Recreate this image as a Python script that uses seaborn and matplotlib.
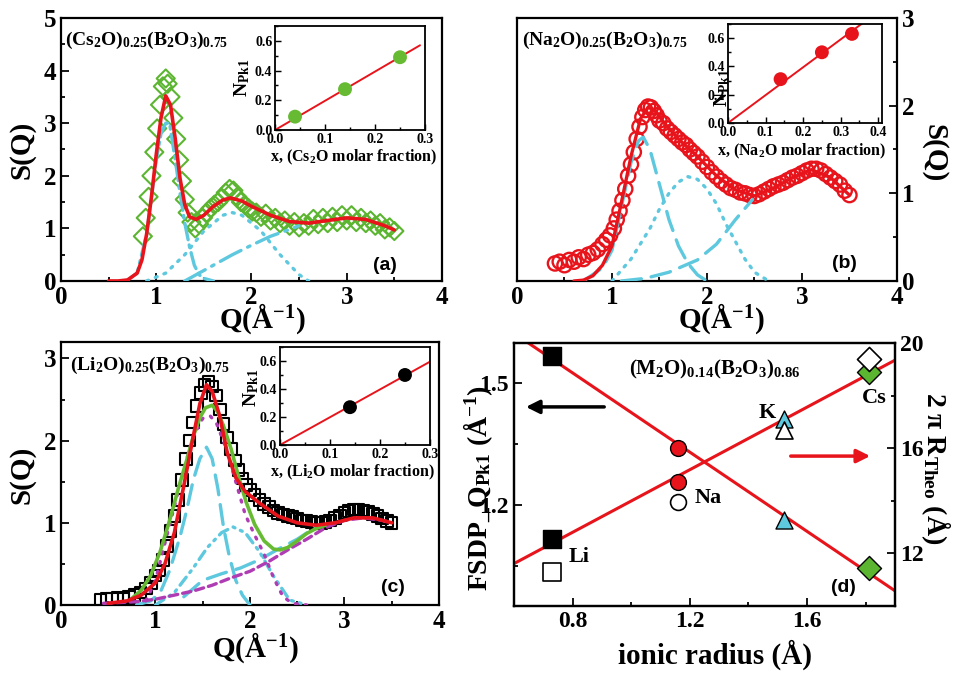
import numpy as np
import matplotlib
matplotlib.use("Agg")
import matplotlib.pyplot as plt
from matplotlib.ticker import MultipleLocator, FixedLocator
import seaborn as sns

# ---------------- values ----------------
# (a) (Cs2O)0.25(B2O3)0.75
cs_q = [0.86, 0.89, 0.92, 0.95, 0.98, 1.01, 1.04, 1.07, 1.10, 1.12, 1.15, 1.18, 1.21, 1.24, 1.27, 1.30,
        1.33, 1.37, 1.41, 1.45, 1.49, 1.53, 1.57, 1.61, 1.65, 1.69, 1.73, 1.77, 1.81, 1.85, 1.89, 1.93,
        1.97, 2.01, 2.05, 2.10, 2.15, 2.20, 2.25, 2.30, 2.35, 2.40, 2.45, 2.50, 2.55, 2.60, 2.65, 2.70,
        2.75, 2.80, 2.85, 2.90, 2.95, 3.00, 3.05, 3.10, 3.15, 3.20, 3.25, 3.30, 3.35, 3.40, 3.45, 3.50]
cs_s = [0.85, 1.20, 1.60, 2.00, 2.45, 2.90, 3.35, 3.70, 3.85, 3.75, 3.50, 3.10, 2.70, 2.30, 1.90, 1.55,
        1.30, 1.12, 1.00, 1.08, 1.20, 1.30, 1.38, 1.45, 1.50, 1.58, 1.68, 1.75, 1.72, 1.60, 1.50, 1.45,
        1.38, 1.32, 1.30, 1.22, 1.28, 1.15, 1.20, 1.10, 1.15, 1.05, 1.12, 1.02, 1.10, 1.05, 1.18, 1.08,
        1.20, 1.10, 1.22, 1.12, 1.25, 1.15, 1.25, 1.12, 1.20, 1.10, 1.15, 1.05, 1.10, 0.98, 1.02, 0.95]
cs_fit_q = [0.50, 0.60, 0.70, 0.80, 0.85, 0.90, 0.95, 1.00, 1.05, 1.10, 1.15, 1.20, 1.25, 1.30, 1.35,
            1.42, 1.50, 1.60, 1.70, 1.78, 1.90, 2.00, 2.20, 2.40, 2.60, 2.80, 3.00, 3.20, 3.40, 3.50]
cs_fit_s = [0.00, 0.00, 0.02, 0.15, 0.40, 0.90, 1.60, 2.40, 3.10, 3.52, 3.35, 2.70, 1.95, 1.45, 1.22,
            1.17, 1.25, 1.42, 1.54, 1.58, 1.52, 1.42, 1.25, 1.13, 1.10, 1.15, 1.20, 1.17, 1.05, 0.97]
cs_p1_q = [0.70, 0.80, 0.90, 1.00, 1.05, 1.10, 1.14, 1.20, 1.25, 1.30, 1.35, 1.40, 1.45, 1.50, 1.60]
cs_p1_s = [0.02, 0.15, 0.90, 2.30, 2.80, 3.00, 3.00, 2.30, 1.67, 1.10, 0.65, 0.30, 0.12, 0.05, 0.00]
cs_p2_q = [0.90, 1.10, 1.30, 1.50, 1.70, 1.80, 1.90, 2.10, 2.30, 2.50, 2.60]
cs_p2_s = [0.00, 0.15, 0.50, 0.95, 1.25, 1.30, 1.25, 0.95, 0.50, 0.12, 0.00]
cs_p3_q = [1.30, 1.40, 1.60, 1.80, 2.00, 2.20, 2.40, 2.50]
cs_p3_s = [0.00, 0.10, 0.30, 0.50, 0.68, 0.85, 0.98, 1.05]
cs_frac = [0.04, 0.14, 0.25]
cs_npk = [0.09, 0.275, 0.49]

# (b) (Na2O)0.25(B2O3)0.75
na_q = [0.40, 0.45, 0.50, 0.55, 0.60, 0.65, 0.70, 0.75, 0.80, 0.85, 0.90, 0.94, 0.98, 1.02, 1.05, 1.08,
        1.11, 1.14, 1.17, 1.20, 1.23, 1.26, 1.29, 1.32, 1.35, 1.38, 1.41, 1.44, 1.47, 1.50, 1.54, 1.58,
        1.62, 1.66, 1.70, 1.74, 1.78, 1.82, 1.86, 1.90, 1.95, 2.00, 2.05, 2.10, 2.15, 2.20, 2.25, 2.30,
        2.35, 2.40, 2.45, 2.50, 2.55, 2.60, 2.65, 2.70, 2.75, 2.80, 2.85, 2.90, 2.95, 3.00, 3.05, 3.10,
        3.15, 3.20, 3.25, 3.30, 3.35, 3.40, 3.45, 3.50]
na_s = [0.20, 0.22, 0.18, 0.24, 0.22, 0.27, 0.25, 0.30, 0.32, 0.36, 0.42, 0.47, 0.52, 0.60, 0.70, 0.80,
        0.92, 1.05, 1.20, 1.33, 1.47, 1.62, 1.76, 1.87, 1.95, 1.99, 1.98, 1.94, 1.89, 1.83, 1.80, 1.74,
        1.70, 1.66, 1.62, 1.58, 1.55, 1.50, 1.46, 1.42, 1.36, 1.30, 1.24, 1.19, 1.14, 1.10, 1.06, 1.04,
        1.01, 1.00, 0.98, 0.97, 0.99, 1.02, 1.05, 1.08, 1.10, 1.12, 1.15, 1.18, 1.20, 1.23, 1.26, 1.28,
        1.28, 1.26, 1.22, 1.18, 1.14, 1.10, 1.03, 0.98]
na_fit_q = [0.60, 0.70, 0.80, 0.90, 1.00, 1.10, 1.20, 1.30, 1.38, 1.45, 1.55, 1.70, 1.90, 2.10, 2.30,
            2.50, 2.70, 2.90, 3.10, 3.30, 3.50]
na_fit_s = [0.00, 0.01, 0.06, 0.18, 0.40, 0.90, 1.42, 1.85, 1.98, 1.95, 1.80, 1.62, 1.42, 1.20, 1.04,
            0.97, 1.06, 1.18, 1.27, 1.18, 0.98]
na_p1_q = [0.70, 0.90, 1.00, 1.10, 1.20, 1.28, 1.33, 1.40, 1.50, 1.60, 1.70, 1.80, 1.90, 2.00]
na_p1_s = [0.00, 0.15, 0.35, 0.85, 1.35, 1.60, 1.64, 1.50, 1.10, 0.70, 0.40, 0.20, 0.07, 0.00]
na_p2_q = [1.00, 1.20, 1.40, 1.50, 1.60, 1.70, 1.80, 1.90, 2.00, 2.10, 2.20, 2.30, 2.40, 2.50, 2.65]
na_p2_s = [0.00, 0.25, 0.60, 0.82, 1.00, 1.13, 1.19, 1.16, 1.05, 0.88, 0.65, 0.45, 0.25, 0.10, 0.00]
na_p3_q = [1.10, 1.35, 1.60, 1.90, 2.10, 2.30, 2.48]
na_p3_s = [0.00, 0.03, 0.10, 0.24, 0.42, 0.70, 0.93]
na_frac = [0.14, 0.25, 0.33]
na_npk = [0.31, 0.50, 0.63]

# (c) (Li2O)0.25(B2O3)0.75
li_q = [0.42, 0.48, 0.54, 0.60, 0.66, 0.72, 0.78, 0.84, 0.90, 0.95, 1.00, 1.04, 1.08, 1.12, 1.16, 1.20,
        1.24, 1.28, 1.32, 1.36, 1.40, 1.44, 1.48, 1.52, 1.56, 1.60, 1.64, 1.68, 1.72, 1.76, 1.80, 1.84,
        1.88, 1.92, 1.96, 2.00, 2.05, 2.10, 2.15, 2.20, 2.25, 2.30, 2.35, 2.40, 2.45, 2.50, 2.55, 2.60,
        2.65, 2.70, 2.75, 2.80, 2.85, 2.90, 2.95, 3.00, 3.05, 3.10, 3.15, 3.20, 3.25, 3.30, 3.35, 3.40,
        3.45, 3.50]
li_s = [0.06, 0.08, 0.07, 0.09, 0.08, 0.10, 0.12, 0.15, 0.20, 0.27, 0.36, 0.42, 0.55, 0.72, 0.90, 1.08,
        1.28, 1.52, 1.78, 2.00, 2.22, 2.42, 2.58, 2.68, 2.72, 2.66, 2.55, 2.38, 2.20, 2.04, 1.90, 1.76,
        1.64, 1.54, 1.46, 1.40, 1.34, 1.28, 1.23, 1.19, 1.15, 1.12, 1.10, 1.08, 1.07, 1.05, 1.03, 1.02,
        1.01, 1.00, 1.00, 1.01, 1.03, 1.06, 1.09, 1.12, 1.14, 1.16, 1.16, 1.15, 1.13, 1.11, 1.08, 1.05,
        1.02, 1.00]
li_fit_q = [0.50, 0.70, 0.85, 1.00, 1.10, 1.20, 1.30, 1.40, 1.47, 1.54, 1.60, 1.68, 1.76, 1.85, 1.95,
            2.10, 2.30, 2.50, 2.70, 2.90, 3.10, 3.30, 3.50]
li_fit_s = [0.02, 0.05, 0.12, 0.27, 0.50, 0.88, 1.45, 2.05, 2.45, 2.68, 2.60, 2.30, 1.85, 1.55, 1.38,
            1.24, 1.08, 1.00, 0.97, 1.00, 1.06, 1.06, 1.00]
li_g_q = [0.75, 0.85, 0.95, 1.05, 1.15, 1.25, 1.33, 1.40, 1.47, 1.53, 1.60, 1.66, 1.72, 1.80, 1.88,
          1.96, 2.05, 2.15, 2.25, 2.32, 2.40, 2.50, 2.60, 2.70, 2.80]
li_g_s = [0.08, 0.18, 0.36, 0.65, 1.03, 1.45, 1.76, 2.05, 2.28, 2.40, 2.43, 2.35, 2.18, 1.90, 1.56,
          1.25, 0.98, 0.78, 0.68, 0.67, 0.70, 0.78, 0.87, 0.93, 0.97]
li_m1_q = [0.90, 1.00, 1.10, 1.20, 1.30, 1.40, 1.50, 1.58, 1.65, 1.75, 1.85, 1.95, 2.05, 2.15, 2.25,
           2.35, 2.45, 2.60]
li_m1_s = [0.05, 0.30, 0.75, 1.20, 1.65, 2.05, 2.27, 2.30, 2.20, 1.90, 1.50, 1.10, 0.85, 0.62, 0.33,
           0.10, 0.02, 0.00]
li_m2_q = [0.45, 0.80, 1.00, 1.20, 1.40, 1.60, 1.80, 2.00, 2.20, 2.40, 2.60, 2.80, 3.00, 3.20, 3.40, 3.50]
li_m2_s = [0.02, 0.04, 0.07, 0.12, 0.17, 0.24, 0.33, 0.41, 0.53, 0.67, 0.80, 0.94, 1.03, 1.06, 1.03, 1.00]
li_p1_q = [0.80, 0.95, 1.05, 1.15, 1.26, 1.33, 1.40, 1.47, 1.54, 1.60, 1.66, 1.72, 1.78, 1.85, 1.92, 2.00]
li_p1_s = [0.00, 0.05, 0.15, 0.42, 0.83, 1.15, 1.52, 1.78, 1.92, 1.78, 1.42, 0.95, 0.60, 0.30, 0.12, 0.00]
li_p2_q = [1.00, 1.20, 1.40, 1.55, 1.70, 1.82, 1.95, 2.10, 2.25, 2.42, 2.60]
li_p2_s = [0.00, 0.15, 0.45, 0.70, 0.88, 0.95, 0.88, 0.65, 0.35, 0.06, 0.00]
li_p3_q = [1.30, 1.50, 1.70, 1.90, 2.10, 2.30, 2.50, 2.70]
li_p3_s = [0.10, 0.30, 0.38, 0.45, 0.55, 0.68, 0.80, 0.95]
li_frac = [0.14, 0.25]
li_npk = [0.27, 0.50]

# (d) (M2O)0.14(B2O3)0.86
ions = ["Li", "Na", "K", "Cs"]
ion_radius = [0.73, 1.16, 1.52, 1.81]
fsdp_q = [1.569, 1.340, 1.163, 1.043]
r_theo = [12.53, 14.70, 17.10, 18.90]
r_theo_open = [11.28, 13.94, 16.69, 19.40]

GREEN = "#5cb531"
RED = "#e8141c"
CYAN = "#5ec8de"
MAGENTA = "#b03cb4"
ion_colors = ["black", RED, CYAN, GREEN]
ion_markers = ["s", "o", "^", "D"]

# ---------------- style ----------------
sns.set_style("ticks")
plt.rcParams["font.family"] = ["Liberation Serif", "DejaVu Serif"]
plt.rcParams["font.weight"] = "bold"
plt.rcParams["axes.labelweight"] = "bold"
plt.rcParams["mathtext.fontset"] = "custom"
plt.rcParams["mathtext.rm"] = "Liberation Serif:bold"
plt.rcParams["mathtext.it"] = "Liberation Serif:bold:italic"
plt.rcParams["mathtext.bf"] = "Liberation Serif:bold"
plt.rcParams["mathtext.default"] = "regular"
plt.rcParams["text.color"] = "black"
plt.rcParams["axes.labelcolor"] = "black"

fig = plt.figure(figsize=(9.54, 6.74), dpi=100)


def frame(ax, size, lw=1.6, major=6, minor=3):
    for sp in ax.spines.values():
        sp.set_linewidth(lw)
        sp.set_color("black")
    ax.tick_params(which="both", direction="in", width=lw * 0.8, colors="black",
                   labelsize=size, top=False, right=False)
    ax.tick_params(which="major", length=major)
    ax.tick_params(which="minor", length=minor)


def line(ax, q, s, color, lw, ls="-", z=3):
    sns.lineplot(x=q, y=s, ax=ax, color=color, lw=lw, ls=ls, estimator=None,
                 dash_capstyle="round", zorder=z)


def sq_axes(ax, ymax):
    ax.set_xlim(0, 4)
    ax.set_ylim(0, ymax)
    ax.xaxis.set_major_locator(MultipleLocator(1))
    ax.xaxis.set_minor_locator(MultipleLocator(0.5))
    ax.yaxis.set_major_locator(MultipleLocator(1))
    ax.yaxis.set_minor_locator(MultipleLocator(0.5))
    ax.set_xlabel("Q(Å$^{-1}$)", fontsize=21, ha="center", va="center")


def inset(rect, xs, ns, xend, xmax, color, xlabel, xlab_pos, ylab_pos):
    ax = fig.add_axes(rect)
    slope = np.dot(xs, ns) / np.dot(xs, xs)
    xx = np.array([0.0, xend])
    sns.lineplot(x=xx, y=slope * xx, ax=ax, color=RED, lw=1.4, zorder=2)
    sns.scatterplot(x=xs, y=ns, ax=ax, color=color, s=100, edgecolor="none", zorder=3)
    ax.set_xlim(0, xmax)
    ax.set_ylim(0, 0.7)
    ax.xaxis.set_major_locator(MultipleLocator(0.1))
    ax.xaxis.set_minor_locator(MultipleLocator(0.05))
    ax.yaxis.set_major_locator(MultipleLocator(0.2))
    ax.yaxis.set_minor_locator(MultipleLocator(0.1))
    frame(ax, 10, lw=1.3, major=4, minor=2)
    ax.tick_params(pad=2)
    ax.set_xlabel(xlabel, fontsize=11.5, ha="center", va="center")
    ax.xaxis.set_label_coords(*xlab_pos)
    ax.set_ylabel("N$_{Pk1}$", fontsize=14, rotation=90, rotation_mode="default",
                  ha="center", va="center")
    ax.yaxis.set_label_coords(*ylab_pos)
    return ax


ttl_kw = dict(fontsize=14, va="top", ha="left")
tag_kw = dict(fontsize=14, fontweight="bold", ha="center", va="center",
              family=["Liberation Sans", "DejaVu Sans"])

# ---------------- (a) ----------------
ax_a = fig.add_axes([0.0639, 0.5831, 0.3994, 0.3902])
sns.scatterplot(x=cs_q, y=cs_s, ax=ax_a, marker="D", s=85, facecolor="none",
                edgecolor=GREEN, linewidth=1.5, zorder=2)
line(ax_a, cs_p1_q, cs_p1_s, CYAN, 2.4, (0, (5, 1.6, 0.8, 1.6)))
line(ax_a, cs_p2_q, cs_p2_s, CYAN, 2.4, (0, (0.6, 2.2)))
line(ax_a, cs_p3_q, cs_p3_s, CYAN, 2.4, (0, (7, 2.2, 0.8, 2.2)))
line(ax_a, cs_fit_q, cs_fit_s, RED, 2.6, "-", z=4)
sq_axes(ax_a, 5)
frame(ax_a, 18)
ax_a.xaxis.set_label_coords(0.528, -0.145)
ax_a.set_ylabel("S(Q)", fontsize=21, rotation=90, rotation_mode="default", ha="center", va="center")
ax_a.yaxis.set_label_coords(-0.102, 0.498)
ax_a.text(0.01, 0.954, "(Cs$_2$O)$_{0.25}$(B$_2$O$_3$)$_{0.75}$", transform=ax_a.transAxes, **ttl_kw)
ax_a.text(0.850, 0.057, "(a)", transform=ax_a.transAxes, **tag_kw)
inset([0.2883, 0.8071, 0.1572, 0.1543], cs_frac, cs_npk, 0.29, 0.3, "#66bb33",
      "x, (Cs$_2$O molar fraction)", (0.527, -0.26), (-0.22, 0.5))

# ---------------- (b) ----------------
ax_b = fig.add_axes([0.5419, 0.5831, 0.3983, 0.3902])
sns.scatterplot(x=na_q, y=na_s, ax=ax_b, marker="o", s=105, facecolor="none",
                edgecolor=RED, linewidth=1.7, zorder=2)
line(ax_b, na_p1_q, na_p1_s, CYAN, 2.4, (0, (6, 3)))
line(ax_b, na_p2_q, na_p2_s, CYAN, 2.4, (0, (0.6, 2.2)))
line(ax_b, na_p3_q, na_p3_s, CYAN, 2.4, (0, (6, 3)))
line(ax_b, na_fit_q, na_fit_s, RED, 2.4, "-", z=4)
sq_axes(ax_b, 3)
frame(ax_b, 18)
ax_b.tick_params(which="both", left=False, right=True, labelleft=False, labelright=True)
ax_b.xaxis.set_label_coords(0.537, -0.145)
ax_b.yaxis.set_label_position("right")
ax_b.set_ylabel("S(Q)", fontsize=21, rotation=-90, rotation_mode="default", ha="center", va="center")
ax_b.yaxis.set_label_coords(1.097, 0.487)
ax_b.text(0.013, 0.954, "(Na$_2$O)$_{0.25}$(B$_2$O$_3$)$_{0.75}$", transform=ax_b.transAxes, **ttl_kw)
ax_b.text(0.863, 0.065, "(b)", transform=ax_b.transAxes, **tag_kw)
inset([0.7631, 0.8175, 0.1614, 0.1469], na_frac, na_npk, 0.4, 0.41, RED,
      "x, (Na$_2$O molar fraction)", (0.48, -0.29), (-0.04, 0.35))

# ---------------- (c) ----------------
ax_c = fig.add_axes([0.0639, 0.1024, 0.3962, 0.3902])
sns.scatterplot(x=li_q, y=li_s, ax=ax_c, marker="s", s=70, facecolor="none",
                edgecolor="black", linewidth=1.5, zorder=2)
line(ax_c, li_p1_q, li_p1_s, CYAN, 2.4, (0, (6, 3)))
line(ax_c, li_p2_q, li_p2_s, CYAN, 2.4, (0, (3, 1.8, 0.6, 1.8, 0.6, 1.8)))
line(ax_c, li_p3_q, li_p3_s, CYAN, 2.4, (0, (6, 3)))
line(ax_c, li_m1_q, li_m1_s, MAGENTA, 2.4, (0, (0.6, 2.4)))
line(ax_c, li_m2_q, li_m2_s, MAGENTA, 2.4, (0, (2.5, 1.5)))
line(ax_c, li_g_q, li_g_s, "#66bb33", 2.6, "-", z=4)
line(ax_c, li_fit_q, li_fit_s, RED, 2.6, "-", z=5)
sq_axes(ax_c, 3.2)
frame(ax_c, 18)
ax_c.xaxis.set_label_coords(0.513, -0.163)
ax_c.set_ylabel("S(Q)", fontsize=21, rotation=90, rotation_mode="default", ha="center", va="center")
ax_c.yaxis.set_label_coords(-0.103, 0.494)
ax_c.text(0.024, 0.951, "(Li$_2$O)$_{0.25}$(B$_2$O$_3$)$_{0.75}$", transform=ax_c.transAxes, **ttl_kw)
ax_c.text(0.878, 0.065, "(c)", transform=ax_c.transAxes, **tag_kw)
inset([0.2935, 0.3398, 0.1572, 0.1454], li_frac, li_npk, 0.3, 0.3, "black",
      "x, (Li$_2$O molar fraction)", (0.48, -0.28), (-0.19, 0.58))

# ---------------- (d) ----------------
ax_d = fig.add_axes([0.5388, 0.1009, 0.3994, 0.3902])
ax_r = ax_d.twinx()
xr = np.array([0.6, 1.9])
k1, b1 = np.polyfit(ion_radius, fsdp_q, 1)
k2, b2 = np.polyfit(ion_radius, r_theo, 1)
sns.lineplot(x=xr, y=k1 * xr + b1, ax=ax_d, color=RED, lw=2.2, zorder=2)
sns.lineplot(x=xr, y=k2 * xr + b2, ax=ax_r, color=RED, lw=2.2, zorder=2)
for i in range(len(ions)):
    sz = 150 if ion_markers[i] != "o" else 130
    sns.scatterplot(x=[ion_radius[i]], y=[fsdp_q[i]], ax=ax_d, marker=ion_markers[i], s=sz,
                    color=ion_colors[i], edgecolor="black", linewidth=1.0, zorder=3)
    sns.scatterplot(x=[ion_radius[i]], y=[r_theo[i]], ax=ax_r, marker=ion_markers[i], s=sz,
                    color=ion_colors[i], edgecolor="black", linewidth=1.0, zorder=3)
    sns.scatterplot(x=[ion_radius[i]], y=[r_theo_open[i]], ax=ax_r, marker=ion_markers[i], s=sz,
                    facecolor="white", edgecolor="black", linewidth=1.2, zorder=3)

ax_d.set_xlim(0.6, 1.9)
ax_d.set_ylim(0.95, 1.6)
ax_r.set_ylim(10, 20)
ax_d.xaxis.set_major_locator(FixedLocator([0.8, 1.2, 1.6]))
ax_d.xaxis.set_minor_locator(FixedLocator([1.0, 1.4, 1.8]))
ax_d.yaxis.set_major_locator(FixedLocator([1.2, 1.5]))
ax_d.yaxis.set_minor_locator(FixedLocator([1.05, 1.35]))
ax_r.yaxis.set_major_locator(FixedLocator([12, 16, 20]))
ax_r.yaxis.set_minor_locator(FixedLocator([14, 18]))
frame(ax_d, 17)
frame(ax_r, 17)
ax_r.tick_params(which="both", left=False, right=True, labelleft=False, labelright=True)
ax_d.tick_params(axis="y", pad=4)

ax_d.set_xlabel("ionic radius (Å)", fontsize=21, ha="center", va="center")
ax_d.xaxis.set_label_coords(0.528, -0.186)
ax_d.set_ylabel("FSDP_Q$_{Pk1}$ (Å$^{-1}$)", fontsize=20, rotation=90, rotation_mode="default",
                ha="center", va="center")
ax_d.yaxis.set_label_coords(-0.094, 0.449)
ax_r.set_ylabel("2 π R$_{Theo}$ (Å)", fontsize=20, rotation=-90, rotation_mode="default",
                ha="center", va="center")
ax_r.yaxis.set_label_coords(1.108, 0.525)

ax_d.text(0.528, 0.943, "(M$_2$O)$_{0.14}$(B$_2$O$_3$)$_{0.86}$", transform=ax_d.transAxes,
          fontsize=15, ha="center", va="top")
ax_d.text(0.864, 0.072, "(d)", transform=ax_d.transAxes, **tag_kw)

label_pos = [(0.785, 11.85), (1.215, 14.1), (1.434, 17.33), (1.788, 17.9)]
for name, (lx, ly) in zip(ions, label_pos):
    ax_r.text(lx, ly, name, fontsize=16, ha="left", va="center", zorder=5)

ax_d.annotate("", xy=(0.024, 0.757), xytext=(0.244, 0.757), xycoords="axes fraction",
              arrowprops=dict(arrowstyle="-|>", color="black", lw=2.5, mutation_scale=20))
ax_d.annotate("", xy=(0.942, 0.570), xytext=(0.719, 0.570), xycoords="axes fraction",
              arrowprops=dict(arrowstyle="-|>", color=RED, lw=2.5, mutation_scale=20))

fig.savefig("out.png", dpi=100)
